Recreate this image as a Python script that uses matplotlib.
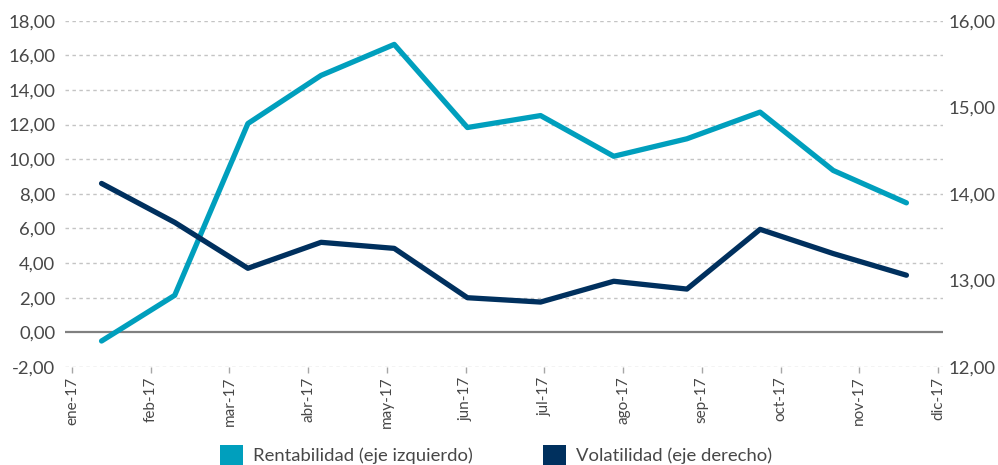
import matplotlib
matplotlib.use("Agg")
import matplotlib.pyplot as plt
from matplotlib.patches import Patch

# ---- data ----
categories = ["1", "2", "3", "4", "5", "6", "7", "8", "9", "10", "11", "12"]
month_labels = ["ene-17", "feb-17", "mar-17", "abr-17", "may-17", "jun-17",
                "jul-17", "ago-17", "sep-17", "oct-17", "nov-17", "dic-17"]
rentabilidad = [-0.50, 2.14, 12.06, 14.84, 16.63, 11.83, 12.52, 10.17, 11.18, 12.72, 9.35, 7.48]
volatilidad = [14.12, 13.67, 13.14, 13.44, 13.37, 12.80, 12.75, 12.99, 12.90, 13.59, 13.31, 13.06]
left_ticks = [-2, 0, 2, 4, 6, 8, 10, 12, 14, 16, 18]
right_ticks = [12, 13, 14, 15, 16]
series_names = ["Rentabilidad (eje izquierdo)", "Volatilidad (eje derecho)"]

TEAL = "#009FBD"
NAVY = "#00305E"
TXT = "#474747"

plt.rcParams["font.family"] = ["Lato", "DejaVu Sans"]

fig = plt.figure(figsize=(9.98, 4.65), dpi=100)
ax = fig.add_axes([0.0651, 0.2108, 0.8798, 0.7447])
axr = ax.twinx()
axm = ax.twiny()

x = list(range(len(categories)))
ax.set_xlim(-0.5, len(categories) - 0.5)
ax.set_ylim(-2, 18)
axr.set_ylim(12, 16)

# gridlines
for v in left_ticks:
    if v == 0:
        ax.axhline(v, color="#808080", lw=1.6, zorder=1)
    else:
        ax.axhline(v, color="#C4C4C4", lw=1.0, ls=(0, (2.5, 2.5)), zorder=0)

ax.plot(x, rentabilidad, color=TEAL, lw=3.8, solid_capstyle="round",
        solid_joinstyle="round", zorder=3)
axr.plot(x, volatilidad, color=NAVY, lw=3.8, solid_capstyle="round",
         solid_joinstyle="round", zorder=3)

# left axis
ax.set_yticks(left_ticks)
ax.set_yticklabels([f"{v:.2f}".replace(".", ",") for v in left_ticks],
                   fontsize=13.3, color=TXT)
ax.tick_params(axis="y", length=0, pad=7)
ax.set_xticks([])
for s in ax.spines.values():
    s.set_visible(False)

# right axis
axr.set_yticks(right_ticks)
axr.set_yticklabels([f"{v:.2f}".replace(".", ",") for v in right_ticks],
                    fontsize=13.3, color=TXT)
axr.tick_params(axis="y", length=0, pad=4)
for s in axr.spines.values():
    s.set_visible(False)

# month date axis at bottom
axm.set_xlim(-0.089, 11.063)
axm.xaxis.set_ticks_position("bottom")
axm.xaxis.set_label_position("bottom")
axm.set_xticks(range(len(month_labels)))
axm.set_xticklabels(month_labels, rotation=90, fontsize=11, color=TXT)
axm.tick_params(axis="x", length=4, width=1, color="#A6A6A6", pad=3)
for s in axm.spines.values():
    s.set_visible(False)

handles = [Patch(facecolor=TEAL, edgecolor="none"),
           Patch(facecolor=NAVY, edgecolor="none")]
fig.legend(handles, series_names, loc="center", bbox_to_anchor=(0.497, 0.022),
           ncol=2, frameon=False, fontsize=13.3, labelcolor=TXT,
           handlelength=1.25, handleheight=1.25, handletextpad=0.55,
           columnspacing=3.8, borderaxespad=0)

fig.savefig("out.png", dpi=100)
